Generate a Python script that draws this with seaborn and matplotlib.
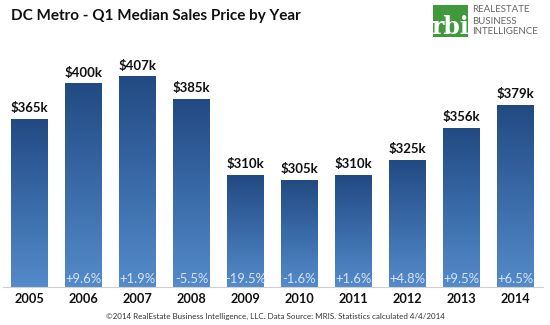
import numpy as np
import pandas as pd
import matplotlib
matplotlib.use("Agg")
import matplotlib.pyplot as plt
from matplotlib.colors import LinearSegmentedColormap
import seaborn as sns

years = ["2005", "2006", "2007", "2008", "2009", "2010", "2011", "2012", "2013", "2014"]
prices_k = [365, 400, 407, 385, 310, 305, 310, 325, 356, 379]
value_labels = ["$365k", "$400k", "$407k", "$385k", "$310k", "$305k", "$310k", "$325k", "$356k", "$379k"]
change_labels = ["", "+9.6%", "+1.9%", "-5.5%", "-19.5%", "-1.6%", "+1.6%", "+4.8%", "+9.5%", "+6.5%"]

title = "DC Metro - Q1 Median Sales Price by Year"
footnote = "\u00a92014 RealEstate Business Intelligence, LLC. Data Source: MRIS. Statistics calculated 4/4/2014"

sns.set_theme(style="white")
plt.rcParams["font.family"] = ["Lato", "DejaVu Sans"]

df = pd.DataFrame({"year": years, "price": prices_k})

fig = plt.figure(figsize=(5.5, 3.25), dpi=100)
ax = fig.add_axes([2.5 / 550, 1 - 287 / 325, 540 / 550, 254 / 325])

sns.barplot(data=df, x="year", y="price", color="#2f5d9a", width=0.67, ax=ax,
            saturation=1, zorder=2)

ymin, ymax = 200, 450

# vertical gradient fill for each bar: dark navy at the top, lighter blue at the base
cmap = LinearSegmentedColormap.from_list("barfade", ["#548bca", "#3a6aa8", "#224a82"])
grad = np.linspace(0, 1, 256).reshape(-1, 1)
for patch in ax.patches:
    x0 = patch.get_x()
    w = patch.get_width()
    top = patch.get_height()
    ax.imshow(grad, cmap=cmap, origin="lower", aspect="auto",
              extent=(x0, x0 + w, ymin, top), zorder=2, interpolation="nearest")
    patch.set_visible(False)

ax.set_xlim(-0.5, len(years) - 0.5)
ax.set_ylim(ymin, ymax)

for i, (v, lab, ch) in enumerate(zip(prices_k, value_labels, change_labels)):
    ax.text(i, v + 5, lab, ha="center", va="bottom", fontsize=9.5,
            fontweight="bold", color="#111111", zorder=4)
    if ch:
        ax.text(i, ymin + 1.5, ch, ha="center", va="bottom", fontsize=9.4,
                color="#d6e3f3", zorder=4)

ax.set_xlabel("")
ax.set_ylabel("")
ax.set_yticks([])
ax.tick_params(axis="x", length=0, pad=4)
for t in ax.get_xticklabels():
    t.set_fontweight("bold")
    t.set_fontsize(9.2)
    t.set_color("#111111")
for s in ["left", "right", "top"]:
    ax.spines[s].set_visible(False)
ax.spines["bottom"].set_color("#d0d0d0")
ax.spines["bottom"].set_linewidth(0.8)

fig.text(11 / 550, 1 - 16 / 325, title, fontsize=11, fontweight="bold",
         color="#111111", ha="left", va="center")
fig.text(275 / 550, 1 - 316 / 325, footnote, fontsize=5.8, color="#333333",
         ha="center", va="center")

# company mark in the upper right corner
logo_ax = fig.add_axes([433 / 550, 1 - 37 / 325, 35 / 550, 32 / 325])
logo_ax.set_facecolor("#3f9a3c")
logo_ax.set_xticks([])
logo_ax.set_yticks([])
for s in logo_ax.spines.values():
    s.set_visible(False)
logo_ax.text(0.5, 0.3, "rbi", ha="center", va="center", fontsize=17,
             fontweight="bold", color="white", family="DejaVu Serif",
             transform=logo_ax.transAxes)
for k, word in enumerate(["REALESTATE", "BUSINESS", "INTELLIGENCE"]):
    fig.text(472 / 550, 1 - (10 + k * 11) / 325, word, fontsize=7,
             color="#666666", ha="left", va="center")

fig.savefig("out.png", dpi=100)
